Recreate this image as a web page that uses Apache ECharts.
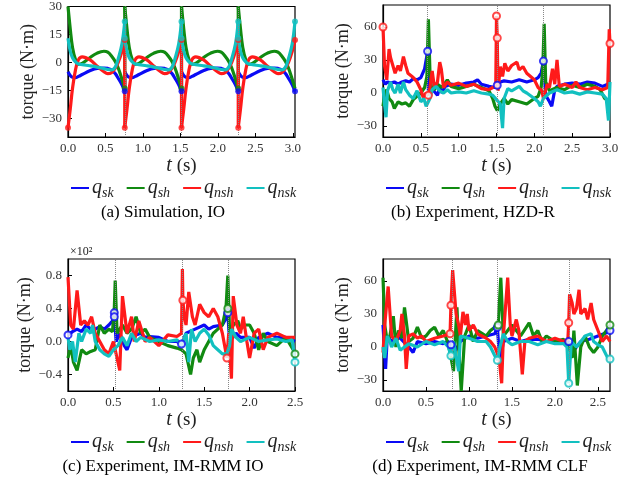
<!DOCTYPE html>
<html>
<head>
<meta charset="utf-8">
<script src="https://cdn.jsdelivr.net/npm/echarts@6/dist/echarts.min.js"></script>
<style>
html, body { margin: 0; background: #fff; }
#chart { width: 631px; height: 494px; }
</style>
</head>
<body>
<div id="chart"></div>
<script>
// joint torque traces, four panels
var seriesNames = ['q_sk', 'q_sh', 'q_nsh', 'q_nsk'];
var captions = ['(a) Simulation, IO', '(b) Experiment, HZD-R', '(c) Experiment, IM-RMM IO', '(d) Experiment, IM-RMM CLF'];

// (a) simulation: four steps
var tA = [0, .03, .06, .10, .14, .19, .29, .39, .48, .53, .58, .63, .67, .72, .757,
  .757, .787, .817, .857, .897, .947, 1.047, 1.147, 1.237, 1.287, 1.337, 1.387, 1.427, 1.477, 1.514,
  1.514, 1.544, 1.574, 1.614, 1.654, 1.704, 1.804, 1.904, 1.994, 2.044, 2.094, 2.144, 2.184, 2.234, 2.271,
  2.271, 2.301, 2.331, 2.371, 2.411, 2.461, 2.561, 2.661, 2.751, 2.801, 2.851, 2.901, 2.941, 2.991, 3.028];
var skA = [-5, -7, -8, -8.2, -7.5, -6.5, -4.5, -3.2, -3, -3.2, -4, -6, -8.5, -12, -15.5,
  -5, -7, -8, -8.2, -7.5, -6.5, -4.5, -3.2, -3, -3.2, -4, -6, -8.5, -12, -15.5,
  -5, -7, -8, -8.2, -7.5, -6.5, -4.5, -3.2, -3, -3.2, -4, -6, -8.5, -12, -15.5,
  -5, -7, -8, -8.2, -7.5, -6.5, -4.5, -3.2, -3, -3.2, -4, -6, -8.5, -12, -15.5];
var shA = [30, 18, 8, 1.5, -1, -0.5, 2.5, 5, 6, 5.5, 3.5, 0.5, -3, -9, -14,
  30, 18, 8, 1.5, -1, -0.5, 2.5, 5, 6, 5.5, 3.5, 0.5, -3, -9, -14,
  30, 18, 8, 1.5, -1, -0.5, 2.5, 5, 6, 5.5, 3.5, 0.5, -3, -9, -14,
  30, 18, 8, 1.5, -1, -0.5, 2.5, 5, 6, 5.5, 3.5, 0.5, -3, -9, -14];
var nshA = [-35, -25, -14, -4, 1.5, 3, 1.5, -2, -5, -6, -5.5, -3, 0, 6, 12,
  -35, -25, -14, -4, 1.5, 3, 1.5, -2, -5, -6, -5.5, -3, 0, 6, 12,
  -35, -25, -14, -4, 1.5, 3, 1.5, -2, -5, -6, -5.5, -3, 0, 6, 12,
  -35, -25, -14, -4, 1.5, 3, 1.5, -2, -5, -6, -5.5, -3, 0, 6, 12];
var nskA = [13, 6, 2.5, 0.3, -0.8, -1.2, -1.8, -2.5, -3.3, -3.8, -4, -2.5, 2, 10, 22,
  13, 6, 2.5, 0.3, -0.8, -1.2, -1.8, -2.5, -3.3, -3.8, -4, -2.5, 2, 10, 22,
  13, 6, 2.5, 0.3, -0.8, -1.2, -1.8, -2.5, -3.3, -3.8, -4, -2.5, 2, 10, 22,
  13, 6, 2.5, 0.3, -0.8, -1.2, -1.8, -2.5, -3.3, -3.8, -4, -2.5, 2, 10, 22];
var impactsA = [0.757, 1.514, 2.271];
var markersA = [[0, -35, 'q_nsh'], [0.757, -35, 'q_nsh'], [1.514, -35, 'q_nsh'], [2.271, -35, 'q_nsh'],
  [0.757, 12, 'q_nsh'], [1.514, 12, 'q_nsh'], [2.271, 12, 'q_nsh'], [3.028, 12, 'q_nsh'],
  [0.757, 22, 'q_nsk'], [1.514, 22, 'q_nsk'], [2.271, 22, 'q_nsk'], [3.028, 22, 'q_nsk'],
  [0.757, 13, 'q_nsk'], [1.514, 13, 'q_nsk'], [2.271, 13, 'q_nsk'],
  [0.757, -14, 'q_sh'], [1.514, -14, 'q_sh'], [2.271, -14, 'q_sh'],
  [0.757, -15.5, 'q_sk'], [1.514, -15.5, 'q_sk'], [2.271, -15.5, 'q_sk'], [3.028, -15.5, 'q_sk']];

// (b) experiment HZD-R
var skB = [[0,12],[0.03,8],[0.06,10],[0.1,9],[0.15,10],[0.2,8],[0.25,10],[0.3,11],[0.35,10],[0.4,13],[0.45,12],[0.5,14],[0.55,22],[0.59,38],[0.6,2],[0.63,5],[0.67,2],[0.72,-2],[0.75,5],[0.78,0],[0.82,6],[0.9,8],[1.0,7],[1.1,9],[1.2,10],[1.25,12],[1.3,8],[1.4,6],[1.48,5],[1.51,7],[1.55,10],[1.6,11],[1.7,10],[1.8,12],[1.9,10],[2.0,12],[2.05,14],[2.09,18],[2.12,29],[2.15,-2],[2.2,-8],[2.23,-12],[2.27,3],[2.3,6],[2.4,8],[2.5,9],[2.6,8],[2.7,10],[2.8,9],[2.9,6],[2.97,8],[3.0,10]];
var shB = [[0,-12],[0.02,-2],[0.05,3],[0.08,-5],[0.12,-8],[0.15,-14],[0.2,-8],[0.25,-10],[0.3,-9],[0.35,-12],[0.4,-6],[0.45,-3],[0.5,0],[0.55,5],[0.58,15],[0.6,67],[0.62,20],[0.64,5],[0.68,3],[0.72,8],[0.78,5],[0.85,12],[0.9,6],[1.0,4],[1.1,6],[1.2,8],[1.3,5],[1.4,2],[1.45,-5],[1.48,-12],[1.51,-16],[1.55,-10],[1.6,-5],[1.65,-10],[1.7,-6],[1.8,-8],[1.9,-10],[2.0,-5],[2.05,-3],[2.09,5],[2.11,20],[2.13,63],[2.15,10],[2.2,2],[2.3,5],[2.4,3],[2.5,7],[2.6,5],[2.7,8],[2.8,6],[2.87,3],[2.93,-5],[3.0,-8]];
var nshB = [[0,60],[0.02,25],[0.05,12],[0.08,40],[0.1,32],[0.13,25],[0.16,18],[0.2,25],[0.23,20],[0.27,33],[0.3,25],[0.33,18],[0.4,14],[0.45,10],[0.5,3],[0.53,-4],[0.57,0],[0.6,-2],[0.62,5],[0.65,20],[0.68,5],[0.72,10],[0.75,28],[0.77,22],[0.8,5],[0.85,10],[0.9,7],[1.0,9],[1.1,6],[1.2,8],[1.3,4],[1.4,3],[1.45,5],[1.49,6],[1.5,70],[1.51,50],[1.52,2],[1.55,24],[1.58,15],[1.61,27],[1.65,20],[1.7,25],[1.77,28],[1.8,21],[1.85,24],[1.9,18],[2.0,12],[2.05,5],[2.1,2],[2.12,-5],[2.17,8],[2.2,5],[2.24,22],[2.27,8],[2.3,30],[2.33,6],[2.4,8],[2.5,5],[2.55,10],[2.6,5],[2.7,3],[2.8,5],[2.9,3],[2.97,5],[2.99,58],[3.0,45]];
var nskB = [[0,5],[0.02,-10],[0.04,-22],[0.06,2],[0.1,10],[0.13,3],[0.16,0],[0.2,8],[0.23,0],[0.27,10],[0.3,3],[0.35,-2],[0.4,-5],[0.45,2],[0.5,-8],[0.54,-5],[0.57,-12],[0.62,-5],[0.65,3],[0.7,6],[0.75,2],[0.8,0],[0.85,3],[0.9,0],[1.0,1],[1.1,0],[1.2,2],[1.3,0],[1.4,-1],[1.45,-2],[1.5,-6],[1.55,-10],[1.58,-32],[1.6,-5],[1.65,4],[1.7,2],[1.8,6],[1.85,2],[1.9,0],[2.0,-5],[2.05,-8],[2.08,-12],[2.12,-5],[2.2,0],[2.3,3],[2.4,0],[2.5,1],[2.6,-1],[2.7,1],[2.8,0],[2.9,-1],[2.95,-5],[2.98,-25],[3.0,10]];
var impactsB = [0.59, 1.51, 2.12];
var markersB = [[0,60,'q_nsh'],[0.59,38,'q_sk'],[0.6,-2,'q_nsh'],[1.5,70,'q_nsh'],[1.51,50,'q_nsh'],[1.51,7,'q_sk'],[2.12,29,'q_sk'],[3.0,45,'q_nsh']];

// (c) experiment IM-RMM IO, values x10^2
var skC = [[0,0.08],[0.05,0.12],[0.1,0.15],[0.15,0.12],[0.2,0.2],[0.25,0.15],[0.3,0.15],[0.35,0.18],[0.4,0.15],[0.45,0.2],[0.49,0.25],[0.51,0.35],[0.53,0.0],[0.57,0.1],[0.62,-0.05],[0.65,-0.1],[0.7,0.05],[0.75,0.08],[0.8,0.1],[0.85,0.05],[0.9,0.06],[1.0,0.05],[1.1,0.0],[1.2,0.0],[1.25,-0.03],[1.3,0.1],[1.4,0.15],[1.5,0.2],[1.55,0.15],[1.6,0.18],[1.7,0.2],[1.74,0.28],[1.76,0.35],[1.78,0.0],[1.85,0.1],[1.9,0.05],[2.0,0.05],[2.05,-0.08],[2.1,0.05],[2.2,0.1],[2.3,0.05],[2.4,0.05],[2.5,0.0]];
var shC = [[0,-0.2],[0.03,-0.05],[0.06,-0.25],[0.1,-0.35],[0.15,-0.1],[0.2,-0.15],[0.25,-0.12],[0.3,-0.1],[0.35,0.2],[0.4,0.1],[0.45,0.15],[0.49,0.12],[0.51,0.4],[0.52,0.74],[0.54,0.1],[0.6,0.2],[0.65,0.1],[0.7,0.15],[0.75,0.3],[0.8,0.1],[0.85,0.15],[0.9,0.05],[1.0,0.0],[1.1,-0.05],[1.2,-0.08],[1.25,-0.1],[1.3,-0.15],[1.35,-0.4],[1.38,-0.2],[1.42,-0.1],[1.45,-0.25],[1.5,-0.1],[1.55,0.0],[1.6,0.1],[1.65,0.15],[1.7,0.2],[1.74,0.4],[1.76,0.8],[1.78,0.1],[1.82,0.2],[1.87,0.25],[1.9,0.15],[1.95,0.2],[2.0,0.2],[2.05,0.1],[2.1,-0.1],[2.15,0.1],[2.2,0.0],[2.3,-0.05],[2.4,0.05],[2.48,-0.1],[2.5,-0.15]];
var nshC = [[0,0.78],[0.03,0.2],[0.06,0.15],[0.1,0.62],[0.14,0.2],[0.18,0.25],[0.22,0.2],[0.26,0.3],[0.3,0.1],[0.35,0.0],[0.4,-0.1],[0.45,-0.15],[0.5,0.0],[0.54,-0.2],[0.57,-0.35],[0.6,0.55],[0.65,0.1],[0.7,0.3],[0.73,0.0],[0.78,0.25],[0.85,0.0],[0.9,0.05],[1.0,-0.05],[1.1,0.08],[1.2,0.06],[1.25,0.1],[1.26,0.88],[1.265,0.5],[1.28,0.3],[1.3,0.2],[1.33,0.6],[1.37,0.3],[1.4,0.2],[1.45,0.45],[1.5,0.35],[1.55,0.3],[1.6,0.4],[1.65,0.3],[1.7,0.1],[1.75,-0.2],[1.77,0.1],[1.8,-0.45],[1.82,0.55],[1.86,0.2],[1.9,0.1],[1.93,0.3],[1.97,0.0],[2.0,-0.2],[2.05,0.1],[2.1,0.15],[2.15,-0.1],[2.2,0.05],[2.3,0.1],[2.4,0.05],[2.5,0.05]];
var nskC = [[0,0.05],[0.02,-0.1],[0.05,0.0],[0.08,-0.25],[0.12,0.1],[0.15,0.0],[0.2,0.15],[0.25,0.1],[0.27,0.2],[0.3,0.0],[0.35,-0.1],[0.4,-0.15],[0.45,-0.18],[0.5,-0.1],[0.55,-0.05],[0.6,0.05],[0.65,-0.05],[0.7,0.1],[0.75,0.0],[0.8,0.05],[0.9,0.0],[1.0,0.02],[1.1,0.0],[1.2,0.02],[1.25,-0.05],[1.3,0.1],[1.33,-0.25],[1.36,0.15],[1.4,0.0],[1.45,0.1],[1.5,0.15],[1.55,0.08],[1.6,-0.05],[1.65,-0.1],[1.7,-0.15],[1.75,-0.15],[1.78,-0.05],[1.8,0.15],[1.85,0.05],[1.9,0.0],[2.0,0.05],[2.1,0.0],[2.2,0.02],[2.3,0.03],[2.4,0.0],[2.47,0.02],[2.5,-0.25]];
var impactsC = [0.517, 1.26, 1.76];
var markersC = [[0,0.08,'q_sk'],[0.51,0.35,'q_sk'],[0.51,0.3,'q_sk'],[1.265,0.5,'q_nsh'],[1.25,-0.03,'q_sk'],[1.75,-0.2,'q_nsh'],[1.76,0.35,'q_sk'],[1.76,0.4,'q_sh'],[2.5,-0.15,'q_sh'],[2.5,-0.25,'q_nsk']];

// (d) experiment IM-RMM CLF
var skD = [[0,20],[0.03,-20],[0.05,10],[0.1,5],[0.15,8],[0.2,8],[0.25,4],[0.3,0],[0.35,-5],[0.4,5],[0.5,3],[0.6,5],[0.7,3],[0.75,5],[0.79,2],[0.83,-5],[0.9,5],[1.0,10],[1.1,8],[1.2,10],[1.3,12],[1.33,18],[1.36,-15],[1.4,5],[1.5,8],[1.6,5],[1.7,7],[1.8,7],[1.9,5],[2.0,5],[2.1,6],[2.16,5],[2.2,-5],[2.3,5],[2.4,7],[2.5,10],[2.6,13],[2.64,15]];
var shD = [[0,63],[0.02,20],[0.05,5],[0.08,10],[0.12,28],[0.15,0],[0.18,15],[0.22,8],[0.25,36],[0.3,5],[0.35,8],[0.4,18],[0.45,8],[0.5,10],[0.55,15],[0.6,18],[0.65,10],[0.7,15],[0.75,5],[0.78,-5],[0.8,-5],[0.82,-22],[0.86,36],[0.88,0],[0.91,-40],[0.95,10],[1.0,20],[1.05,5],[1.1,15],[1.2,10],[1.25,15],[1.3,18],[1.34,20],[1.37,63],[1.4,10],[1.5,20],[1.55,15],[1.6,10],[1.7,22],[1.75,10],[1.8,15],[1.85,5],[1.9,10],[2.0,5],[2.1,7],[2.16,0],[2.2,-10],[2.22,15],[2.26,-35],[2.3,0],[2.35,10],[2.4,0],[2.45,-5],[2.5,0],[2.55,10],[2.6,15],[2.64,20]];
var nshD = [[0,-5],[0.02,20],[0.06,55],[0.1,10],[0.15,5],[0.2,15],[0.22,30],[0.25,10],[0.27,-20],[0.3,10],[0.35,12],[0.4,8],[0.45,10],[0.5,5],[0.6,8],[0.7,10],[0.78,12],[0.79,38],[0.81,70],[0.85,30],[0.88,20],[0.9,10],[0.93,32],[0.96,20],[0.98,30],[1.0,15],[1.05,20],[1.1,12],[1.15,10],[1.2,8],[1.25,5],[1.3,0],[1.35,-10],[1.38,-33],[1.4,10],[1.45,63],[1.48,20],[1.5,10],[1.55,25],[1.58,15],[1.62,-25],[1.65,5],[1.7,8],[1.8,10],[1.9,5],[2.0,8],[2.1,5],[2.15,7],[2.16,22],[2.17,48],[2.2,40],[2.22,30],[2.25,35],[2.28,52],[2.3,30],[2.35,35],[2.38,25],[2.42,40],[2.45,25],[2.5,15],[2.55,5],[2.6,10],[2.64,5]];
var nskD = [[0,0],[0.02,-10],[0.05,10],[0.08,5],[0.1,0],[0.15,8],[0.2,-3],[0.3,3],[0.4,0],[0.5,5],[0.6,2],[0.7,5],[0.76,0],[0.79,-8],[0.82,5],[0.88,-22],[0.9,10],[1.0,8],[1.1,5],[1.2,5],[1.25,0],[1.3,-8],[1.33,-12],[1.36,0],[1.4,12],[1.45,5],[1.5,2],[1.6,5],[1.7,5],[1.8,2],[1.9,5],[2.0,3],[2.1,3],[2.14,0],[2.16,-33],[2.19,5],[2.25,0],[2.3,5],[2.35,10],[2.42,12],[2.45,5],[2.5,2],[2.55,0],[2.62,-11],[2.64,-12]];
var impactsD = [0.795, 1.33, 2.17];
var markersD = [[0.78,12,'q_nsh'],[0.79,38,'q_nsh'],[0.79,2,'q_sk'],[0.79,-8,'q_nsk'],[1.33,18,'q_sk'],[1.34,20,'q_sh'],[1.33,-12,'q_nsk'],[2.16,22,'q_nsh'],[2.16,5,'q_sk'],[2.16,-33,'q_nsk'],[2.64,15,'q_sk'],[2.64,20,'q_sh'],[2.64,-11,'q_nsk']];

// axis ticks
var xTicksA = [0, 0.5, 1, 1.5, 2, 2.5, 3];
var xTicksC = [0, 0.5, 1, 1.5, 2, 2.5];
var yTicksA = [-30, -15, 0, 15, 30];
var yTicksB = [-30, 0, 30, 60];
var yTicksC = [-0.4, 0, 0.4, 0.8];

var colors = { q_sk: '#0a0af5', q_sh: '#118a11', q_nsh: '#ff1a1a', q_nsk: '#12c0c0' };
var serif = 'Liberation Serif';

// split the simulated trace at each impact: smooth inside a step, straight jump between steps
function steps(t, v) {
  var out = [];
  t.forEach(function (x, i) {
    if (i > 0 && x === t[i - 1]) out.push(null);
    out.push([x, v[i]]);
  });
  return out;
}
function jumps(t, v) {
  var out = [];
  t.forEach(function (x, i) {
    if (i > 0 && x === t[i - 1]) out.push([x, v[i - 1]], [x, v[i]], null);
  });
  return out;
}

var panels = [
  { left: 68, top: 5, xmax: 3.028, ymin: -40, ymax: 30, xt: xTicksA, yt: yTicksA, dec: 0,
    data: [steps(tA, skA), steps(tA, shA), steps(tA, nshA), steps(tA, nskA)],
    jumps: [jumps(tA, skA), jumps(tA, shA), jumps(tA, nshA), jumps(tA, nskA)],
    imp: impactsA, marks: markersA, smooth: 0.4, filled: true },
  { left: 383, top: 5, xmax: 3.0, ymin: -40, ymax: 80, xt: xTicksA, yt: yTicksB, dec: 0,
    data: [skB, shB, nshB, nskB], imp: impactsB, marks: markersB, smooth: false },
  { left: 68, top: 259, xmax: 2.5, ymin: -0.6, ymax: 1.0, xt: xTicksC, yt: yTicksC, dec: 1,
    data: [skC, shC, nshC, nskC], imp: impactsC, marks: markersC, smooth: false },
  { left: 383, top: 259, xmax: 2.64, ymin: -40, ymax: 80, xt: xTicksC, yt: yTicksB, dec: 0,
    data: [skD, shD, nshD, nskD], imp: impactsD, marks: markersD, smooth: false }
];

var W = 227, H = 132;
var option = { animation: false, backgroundColor: '#fff', grid: [], xAxis: [], yAxis: [], series: [], legend: [], graphic: [] };

panels.forEach(function (p, i) {
  option.grid.push({ left: p.left, top: p.top, width: W, height: H, show: true, borderColor: '#000', borderWidth: 1.2, backgroundColor: 'transparent' });
  option.xAxis.push({
    type: 'value', gridIndex: i, min: 0, max: p.xmax,
    axisLine: { show: true, onZero: false, lineStyle: { color: '#000', width: 1.2 } },
    axisTick: { inside: true, length: 4, lineStyle: { color: '#000' }, customValues: p.xt },
    axisLabel: { customValues: p.xt, formatter: function (v) { return v.toFixed(1); }, fontFamily: serif, fontSize: 13, color: '#333', margin: 5 },
    splitLine: { show: false },
    name: '{i|t} (s)', nameLocation: 'middle', nameGap: 19,
    nameTextStyle: { fontFamily: serif, fontSize: 19, color: '#222', rich: { i: { fontFamily: serif, fontStyle: 'italic', fontSize: 20, color: '#222' } } }
  });
  option.yAxis.push({
    type: 'value', gridIndex: i, min: p.ymin, max: p.ymax,
    axisLine: { show: true, onZero: false, lineStyle: { color: '#000', width: 1.2 } },
    axisTick: { inside: true, length: 4, lineStyle: { color: '#000' }, customValues: p.yt },
    axisLabel: { customValues: p.yt, formatter: function (v) { return (v < 0 ? '\u2212' : '') + Math.abs(v).toFixed(p.dec); }, fontFamily: serif, fontSize: 13, color: '#333', margin: 6 },
    splitLine: { show: false },
    name: 'torque (N\u00b7m)', nameLocation: 'middle', nameGap: 31,
    nameTextStyle: { fontFamily: serif, fontSize: 18, color: '#222' }
  });
  p.data.forEach(function (d, k) {
    var c = colors[seriesNames[k]];
    var s = {
      name: seriesNames[k], type: 'line', xAxisIndex: i, yAxisIndex: i, data: d,
      showSymbol: false, smooth: p.smooth, connectNulls: false, clip: true,
      lineStyle: { width: 3.2, color: c }, itemStyle: { color: c }
    };
    if (k === 0) {
      s.markLine = {
        silent: true, symbol: 'none', label: { show: false },
        lineStyle: { type: 'dotted', color: '#888', width: 1 },
        data: p.imp.map(function (x) { return { xAxis: x }; })
      };
    }
    option.series.push(s);
    if (p.jumps) {
      option.series.push({
        name: 'jump', type: 'line', xAxisIndex: i, yAxisIndex: i, data: p.jumps[k],
        showSymbol: false, smooth: false, connectNulls: false, clip: true,
        lineStyle: { width: 3.2, color: c }, itemStyle: { color: c }
      });
    }
  });
  option.series.push({
    name: 'impact', type: 'scatter', xAxisIndex: i, yAxisIndex: i, data: p.marks,
    symbol: p.filled ? 'circle' : 'emptyCircle', symbolSize: p.filled ? 6 : 7, z: 5,
    itemStyle: { color: function (o) { return colors[o.data[2]]; }, borderWidth: p.filled ? 0 : 1.8 }
  });
  option.legend.push({
    data: seriesNames, left: p.left + 3, top: p.top + 173, itemWidth: 18, itemHeight: 2, itemGap: 13,
    icon: 'rect', padding: 0,
    formatter: function (n) { return '{q|q}{s|' + n.slice(2) + '}'; },
    textStyle: {
      fontFamily: serif, color: '#222', padding: [0, 0, 0, -2],
      rich: {
        q: { fontFamily: serif, fontStyle: 'italic', fontSize: 20, color: '#222' },
        s: { fontFamily: serif, fontStyle: 'italic', fontSize: 14, color: '#222', padding: [10, 0, 0, 0] }
      }
    }
  });
});

// captions and scale note
option.graphic = captions.map(function (c, i) {
  var cx = [163, 473, 163, 480][i];
  var cy = [213, 213, 467, 467][i];
  return { type: 'text', x: cx, y: cy, style: { text: c, font: '17px "Liberation Serif"', fill: '#000', align: 'center', verticalAlign: 'middle' } };
});
option.graphic.push({ type: 'text', x: 70, y: 252, style: { text: '\u00d710\u00b2', font: '12px "Liberation Serif"', fill: '#222', verticalAlign: 'middle' } });

var chart = echarts.init(document.getElementById('chart'));
chart.setOption(option);
</script>
</body>
</html>
